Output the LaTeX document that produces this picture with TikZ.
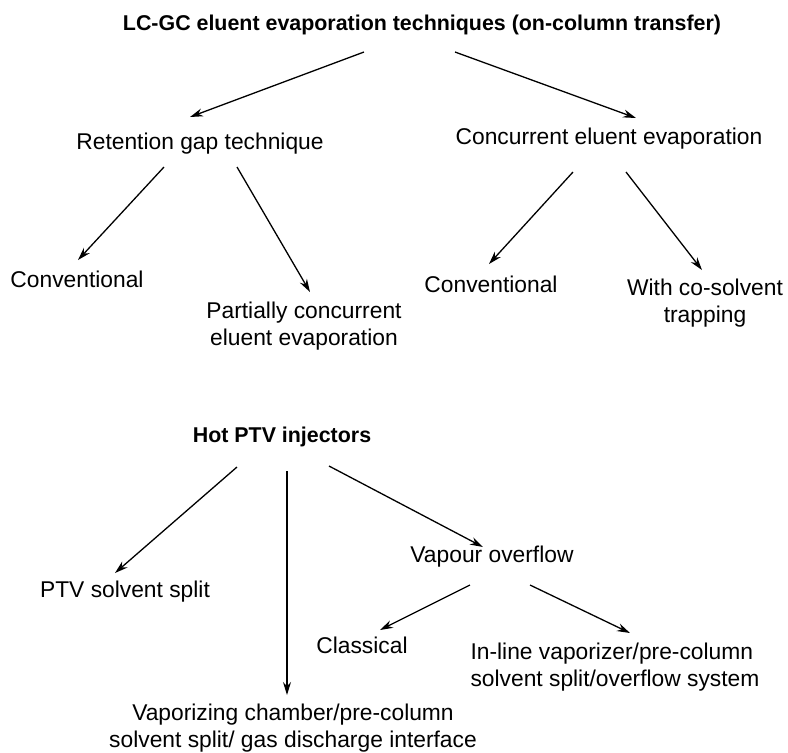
\documentclass[tikz,border=0pt]{standalone}
\usepackage{fontspec}
\setmainfont{Liberation Sans}
\usetikzlibrary{arrows.meta, calc}

\begin{document}
\begin{tikzpicture}[x=0.5pt, y=-0.5pt,
    >={Stealth[length=6.5pt, width=4pt]},
    every node/.style={font=\fontsize{11.4}{13.2}\selectfont, inner sep=0pt, align=center},
    head/.style={font=\fontsize{10.7}{13.2}\selectfont\bfseries}]
  \useasboundingbox (0,0) rectangle (788,752);

  % on-column transfer
  \node[head] (title) at (422, 25) {LC-GC eluent evaporation techniques (on-column transfer)};
  \node (ret) at (200, 144) {Retention gap technique};
  \node (conc) at (609, 139) {Concurrent eluent evaporation};
  \node (convA) at (77, 279) {Conventional};
  \node (part) at (304, 326) {Partially concurrent\\eluent evaporation};
  \node (convB) at (491, 284) {Conventional};
  \node (cosol) at (705, 303) {With co-solvent\\trapping};

  % PTV injectors
  \node[head] (hot) at (282, 437) {Hot PTV injectors};
  \node (ptvsplit) at (125, 592) {PTV solvent split};
  \node (vapour) at (492, 557) {Vapour overflow};
  \node (classical) at (362, 645) {Classical};
  \node[align=left] (inline) at (615, 667) {In-line vaporizer/pre-column\\solvent split/overflow system};
  \node (vapch) at (293, 728) {Vaporizing chamber/pre-column\\solvent split/ gas discharge interface};

  \draw[line width=0.65pt]
    ($(title)+(-58,27)$) edge[->] ($(ret)+(-10,-27)$)
    ($(title)+(33,27)$) edge[->] ($(conc)+(27,-21)$)
    ($(ret)+(-36,23)$) edge[->] ($(convA)+(1,-19)$)
    ($(ret)+(37,23)$) edge[->] ($(part)+(6,-34)$)
    ($(conc)+(-36,33)$) edge[->] ($(convB)+(-2,-20)$)
    ($(conc)+(17,33)$) edge[->] ($(cosol)+(-3,-33)$)
    ($(hot)+(-45,30)$) edge[->] ($(ptvsplit)+(-10,-19)$)
    ($(hot)+(5,34)$) edge[->] ($(vapch)+(-6,-33)$)
    ($(hot)+(47,29)$) edge[->] ($(vapour)+(-9,-10)$)
    ($(vapour)+(-22,28)$) edge[->] ($(classical)+(18,-15)$)
    ($(vapour)+(38,28)$) edge[->] ($(inline)+(15,-34)$);
\end{tikzpicture}
\end{document}
